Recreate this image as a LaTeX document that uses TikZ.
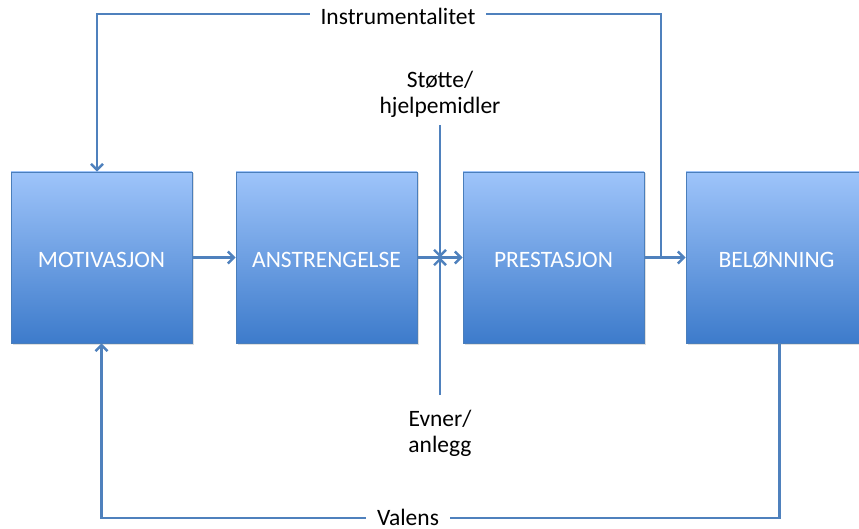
\documentclass[tikz,border=0pt]{standalone}
\usepackage{fontspec}
\setmainfont{Carlito}
\usetikzlibrary{arrows.meta,shadows}

\definecolor{lineblue}{HTML}{4F81BD}
\definecolor{boxtop}{HTML}{9EC4FA}
\definecolor{boxbot}{HTML}{3D7BCB}
\definecolor{boxedge}{HTML}{4A7EBB}

\begin{document}
\begin{tikzpicture}[x=1pt,y=-1pt,
  labelfont/.style={font=\fontsize{23.5}{26}\selectfont},
  stage/.style={labelfont, draw=boxedge, line width=0.8pt,
    top color=boxtop, bottom color=boxbot,
    minimum width=181pt, minimum height=171pt, inner sep=0pt, text=white,
    text height=20pt, text depth=0pt,
    drop shadow={shadow xshift=1.5pt, shadow yshift=-1.5pt, opacity=0.25}},
  caption/.style={labelfont, text=black, align=center},
  gapcaption/.style={labelfont, text=black, fill=white, inner xsep=11pt, inner ysep=0pt},
  link/.style={draw=lineblue, line width=2.8pt},
  tip/.style={-{Straight Barb[length=6pt,width=12pt,line width=2.4pt]}}]

\useasboundingbox (0,0) rectangle (859,529);

% the four stages of the chain
\node[stage] (mot) at (101.5,257.5) {MOTIVASJON};
\node[stage] (ans) at (326.5,257.5) {ANSTRENGELSE};
\node[stage] (pre) at (553.5,257.5) {PRESTASJON};
\node[stage] (bel) at (776.5,257.5) {BELØNNING};

% main flow
\draw[link,tip] (mot.east) -- (ans.west);
\draw[link,tip] (ans.east) -- (pre.west);
\draw[link,tip] (pre.east) -- (bel.west);

% external influences crossing the effort arrow
\coordinate (cross) at (440,257.5);
\coordinate (suptop) at (440,125);
\coordinate (abibot) at (440,395);
\node[caption] (sup) at (440,94) {Støtte/\\hjelpemidler};
\node[caption] (abi) at (440,433) {Evner/\\anlegg};
\draw[link,tip] (suptop) -- (cross);
\draw[link,tip] (abibot) -- (cross);

% instrumentality feedback loop
\coordinate (join) at (661,257.5);
\coordinate (topleft) at (97,14);
\draw[link,tip] (join) |- (topleft) -- (topleft |- mot.north);
\node[gapcaption, anchor=base] (ins) at (398,25) {Instrumentalitet};

% valence feedback loop
\coordinate (botleft) at (101.5,518);
\draw[link,tip] ([xshift=3pt]bel.south) |- (botleft) -- (mot.south);
\node[gapcaption, anchor=base] (val) at (408,525) {Valens};

\end{tikzpicture}
\end{document}
